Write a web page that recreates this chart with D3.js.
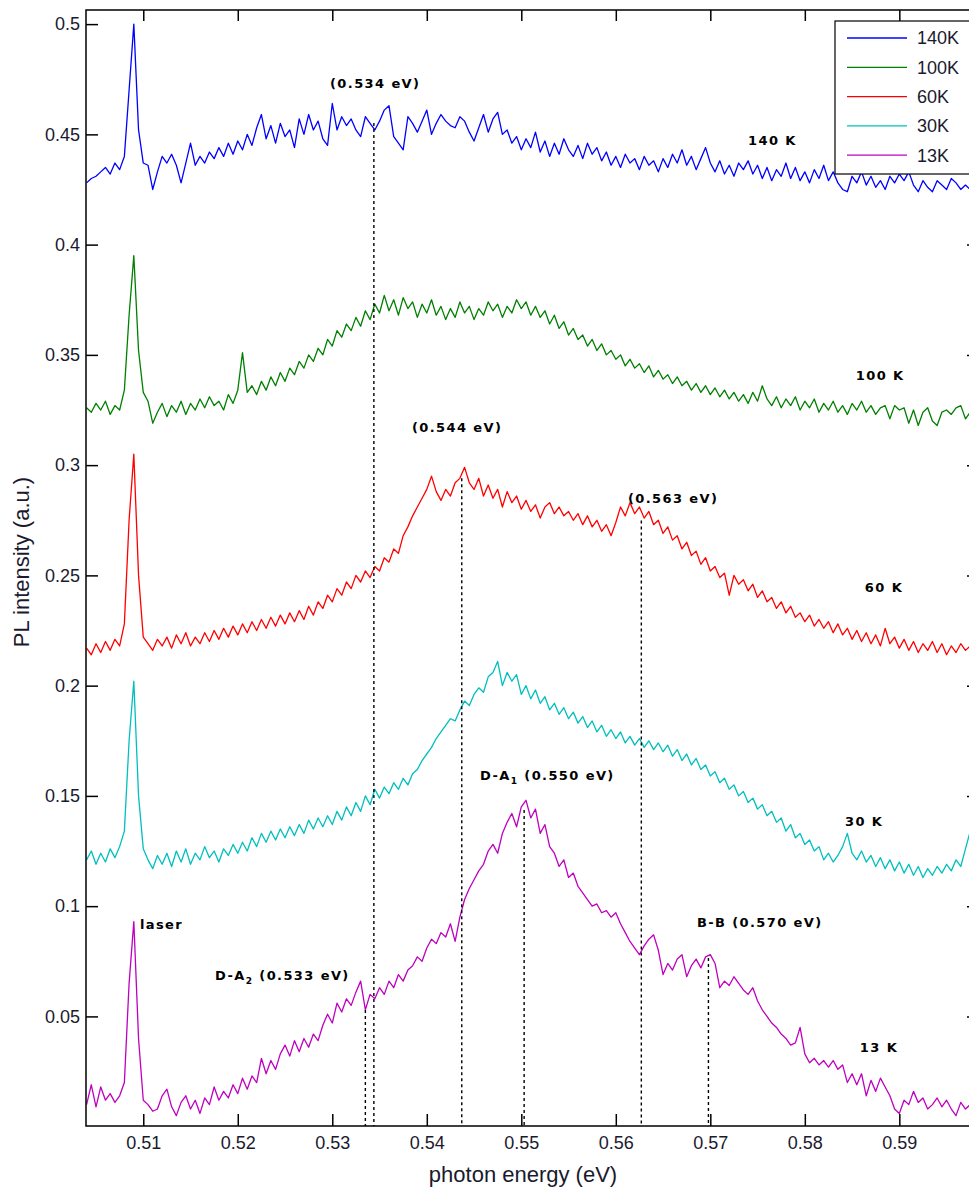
<!DOCTYPE html>
<html>
<head>
<meta charset="utf-8">
<script src="https://cdn.jsdelivr.net/npm/d3@7"></script>
<style>
body { margin: 0; background: #fff; }
</style>
</head>
<body>
<script>
// spectra sampled every 0.5 meV starting at 0.504 eV
var eStart = 0.504, eStep = 0.0005;

var pl140 = [
 0.428,0.430,0.431,0.433,0.435,0.432,0.437,0.434,0.440,0.470,
 0.500,0.452,0.437,0.436,0.425,0.433,0.440,0.437,0.441,0.436,
 0.428,0.437,0.446,0.436,0.440,0.437,0.442,0.439,0.444,0.440,
 0.446,0.441,0.447,0.443,0.450,0.445,0.453,0.459,0.448,0.454,
 0.446,0.455,0.449,0.452,0.444,0.457,0.450,0.459,0.452,0.456,
 0.448,0.445,0.464,0.452,0.458,0.454,0.457,0.452,0.449,0.458,
 0.455,0.452,0.456,0.461,0.463,0.449,0.446,0.443,0.458,0.455,
 0.451,0.456,0.461,0.450,0.455,0.459,0.456,0.454,0.453,0.458,
 0.456,0.451,0.447,0.453,0.459,0.451,0.457,0.460,0.450,0.452,
 0.446,0.449,0.443,0.448,0.444,0.451,0.442,0.447,0.440,0.446,
 0.441,0.448,0.443,0.440,0.445,0.439,0.446,0.441,0.444,0.438,
 0.442,0.436,0.440,0.435,0.441,0.437,0.439,0.434,0.440,0.436,
 0.438,0.433,0.439,0.435,0.441,0.437,0.443,0.436,0.440,0.434,
 0.439,0.444,0.437,0.433,0.438,0.432,0.436,0.431,0.437,0.434,
 0.438,0.432,0.436,0.430,0.435,0.429,0.434,0.431,0.437,0.430,
 0.435,0.429,0.433,0.428,0.434,0.430,0.436,0.429,0.433,0.428,
 0.425,0.424,0.431,0.428,0.433,0.427,0.431,0.426,0.429,0.425,
 0.431,0.428,0.432,0.429,0.433,0.427,0.424,0.429,0.426,0.424,
 0.429,0.427,0.425,0.430,0.428,0.425,0.427,0.425
];

var pl100 = [
 0.326,0.324,0.328,0.325,0.329,0.323,0.327,0.325,0.334,0.368,
 0.395,0.352,0.333,0.329,0.319,0.324,0.328,0.322,0.327,0.324,
 0.329,0.323,0.328,0.325,0.330,0.326,0.331,0.327,0.329,0.325,
 0.332,0.328,0.334,0.351,0.333,0.336,0.332,0.338,0.334,0.340,
 0.336,0.342,0.338,0.344,0.341,0.347,0.344,0.350,0.347,0.353,
 0.350,0.357,0.354,0.361,0.358,0.364,0.361,0.367,0.363,0.370,
 0.366,0.373,0.369,0.377,0.370,0.375,0.368,0.376,0.371,0.374,
 0.367,0.373,0.369,0.375,0.368,0.372,0.366,0.371,0.367,0.374,
 0.369,0.372,0.366,0.371,0.368,0.374,0.370,0.373,0.367,0.372,
 0.369,0.375,0.371,0.374,0.368,0.372,0.367,0.370,0.364,0.368,
 0.362,0.365,0.359,0.362,0.357,0.359,0.354,0.357,0.352,0.355,
 0.350,0.352,0.348,0.350,0.345,0.348,0.344,0.346,0.342,0.345,
 0.340,0.343,0.339,0.341,0.337,0.340,0.336,0.338,0.334,0.337,
 0.333,0.336,0.332,0.335,0.331,0.334,0.330,0.333,0.329,0.332,
 0.328,0.333,0.329,0.336,0.330,0.327,0.331,0.326,0.330,0.327,
 0.331,0.325,0.329,0.326,0.330,0.324,0.328,0.325,0.329,0.324,
 0.327,0.323,0.328,0.325,0.329,0.324,0.327,0.323,0.326,0.327,
 0.321,0.327,0.325,0.326,0.319,0.325,0.318,0.324,0.326,0.320,
 0.318,0.324,0.325,0.323,0.326,0.327,0.321,0.324
];

var pl60 = [
 0.217,0.214,0.219,0.215,0.220,0.216,0.221,0.218,0.228,0.275,
 0.305,0.250,0.222,0.219,0.216,0.221,0.218,0.222,0.217,0.223,
 0.219,0.224,0.218,0.222,0.219,0.224,0.220,0.225,0.221,0.226,
 0.222,0.227,0.223,0.228,0.224,0.229,0.225,0.230,0.226,0.231,
 0.227,0.232,0.228,0.233,0.229,0.234,0.230,0.236,0.232,0.238,
 0.235,0.241,0.238,0.244,0.241,0.247,0.244,0.250,0.247,0.252,
 0.249,0.254,0.252,0.258,0.256,0.262,0.260,0.268,0.272,0.277,
 0.281,0.285,0.289,0.295,0.288,0.284,0.289,0.286,0.292,0.294,
 0.299,0.292,0.289,0.294,0.286,0.291,0.285,0.289,0.281,0.288,
 0.283,0.286,0.280,0.284,0.279,0.282,0.276,0.281,0.283,0.278,
 0.281,0.277,0.279,0.275,0.278,0.273,0.277,0.272,0.275,0.270,
 0.273,0.268,0.274,0.281,0.277,0.283,0.278,0.281,0.276,0.279,
 0.273,0.275,0.269,0.272,0.266,0.268,0.262,0.265,0.259,0.261,
 0.255,0.258,0.252,0.254,0.249,0.251,0.241,0.250,0.246,0.248,
 0.243,0.246,0.240,0.243,0.238,0.240,0.235,0.238,0.233,0.236,
 0.231,0.233,0.229,0.232,0.227,0.230,0.226,0.229,0.224,0.228,
 0.223,0.226,0.221,0.225,0.220,0.224,0.219,0.223,0.218,0.226,
 0.219,0.222,0.217,0.221,0.216,0.220,0.215,0.219,0.216,0.220,
 0.215,0.219,0.214,0.218,0.215,0.219,0.216,0.218
];

var pl30 = [
 0.121,0.125,0.119,0.124,0.120,0.126,0.122,0.127,0.134,0.175,
 0.202,0.150,0.126,0.121,0.117,0.123,0.119,0.124,0.118,0.125,
 0.120,0.126,0.119,0.124,0.121,0.127,0.122,0.125,0.120,0.126,
 0.123,0.128,0.124,0.129,0.125,0.131,0.127,0.133,0.129,0.134,
 0.130,0.135,0.131,0.136,0.132,0.137,0.133,0.139,0.135,0.140,
 0.136,0.141,0.137,0.143,0.139,0.145,0.141,0.147,0.143,0.150,
 0.146,0.153,0.149,0.154,0.151,0.156,0.153,0.158,0.155,0.160,
 0.162,0.166,0.169,0.172,0.176,0.179,0.182,0.185,0.184,0.189,
 0.193,0.191,0.196,0.199,0.197,0.204,0.206,0.211,0.200,0.206,
 0.202,0.205,0.196,0.200,0.194,0.198,0.192,0.195,0.189,0.192,
 0.187,0.190,0.185,0.188,0.183,0.186,0.181,0.184,0.179,0.182,
 0.177,0.180,0.176,0.179,0.174,0.177,0.173,0.176,0.172,0.175,
 0.171,0.174,0.170,0.173,0.168,0.171,0.166,0.169,0.164,0.167,
 0.162,0.164,0.159,0.161,0.156,0.158,0.153,0.155,0.150,0.152,
 0.147,0.149,0.144,0.146,0.141,0.143,0.138,0.140,0.134,0.137,
 0.131,0.133,0.128,0.130,0.125,0.127,0.121,0.124,0.120,0.123,
 0.127,0.133,0.124,0.121,0.125,0.120,0.123,0.118,0.122,0.117,
 0.121,0.116,0.120,0.115,0.119,0.114,0.118,0.113,0.117,0.114,
 0.118,0.115,0.119,0.116,0.121,0.118,0.126,0.134
];

var pl13 = [
 0.010,0.019,0.009,0.018,0.012,0.015,0.011,0.014,0.020,0.065,
 0.093,0.040,0.012,0.010,0.007,0.008,0.014,0.017,0.009,0.005,
 0.011,0.014,0.008,0.012,0.006,0.013,0.010,0.018,0.012,0.016,
 0.013,0.019,0.015,0.022,0.017,0.023,0.020,0.031,0.024,0.030,
 0.026,0.033,0.037,0.032,0.039,0.034,0.040,0.036,0.042,0.039,
 0.046,0.051,0.047,0.056,0.052,0.058,0.055,0.061,0.066,0.053,
 0.060,0.058,0.063,0.060,0.066,0.063,0.069,0.066,0.071,0.073,
 0.077,0.075,0.081,0.085,0.083,0.088,0.086,0.092,0.084,0.095,
 0.103,0.108,0.112,0.116,0.119,0.125,0.128,0.124,0.133,0.138,
 0.142,0.136,0.145,0.148,0.140,0.144,0.133,0.137,0.127,0.124,
 0.118,0.121,0.113,0.115,0.109,0.106,0.103,0.100,0.101,0.097,
 0.098,0.095,0.097,0.092,0.088,0.084,0.081,0.078,0.082,0.085,
 0.087,0.080,0.069,0.074,0.071,0.076,0.078,0.068,0.073,0.076,
 0.072,0.077,0.078,0.074,0.063,0.066,0.064,0.068,0.065,0.062,
 0.060,0.063,0.057,0.053,0.050,0.047,0.045,0.042,0.040,0.037,
 0.038,0.045,0.033,0.029,0.031,0.028,0.030,0.027,0.030,0.026,
 0.028,0.020,0.024,0.019,0.024,0.014,0.021,0.016,0.022,0.018,
 0.014,0.008,0.006,0.012,0.010,0.016,0.011,0.013,0.008,0.010,
 0.013,0.009,0.012,0.008,0.005,0.011,0.008,0.010
];

var seriesNames = ["140K", "100K", "60K", "30K", "13K"];
var seriesColors = ["#0000ff", "#008000", "#ff0000", "#00bfbf", "#bf00bf"];

var xTicks = [0.51, 0.52, 0.53, 0.54, 0.55, 0.56, 0.57, 0.58, 0.59];
var xTickLabels = ["0.51", "0.52", "0.53", "0.54", "0.55", "0.56", "0.57", "0.58", "0.59"];
var yTicks = [0.05, 0.1, 0.15, 0.2, 0.25, 0.3, 0.35, 0.4, 0.45, 0.5];
var yTickLabels = ["0.05", "0.1", "0.15", "0.2", "0.25", "0.3", "0.35", "0.4", "0.45", "0.5"];

// dashed guide lines: energy and the intensity where they start
var markerE = [0.5335, 0.5344, 0.5437, 0.5503, 0.5627, 0.5698];
var markerTop = [0.0529, 0.4551, 0.2941, 0.1436, 0.2749, 0.0765];

// annotations, anchored at (energy, intensity)
var notes = [
  { t: "(0.534 eV)", e: 0.52976, v: 0.4733 },
  { t: "140 K", e: 0.57399, v: 0.4474 },
  { t: "100 K", e: 0.58540, v: 0.3408 },
  { t: "(0.544 eV)", e: 0.53843, v: 0.3173 },
  { t: "(0.563 eV)", e: 0.56129, v: 0.2851 },
  { t: "60 K", e: 0.58635, v: 0.2447 },
  { t: "30 K", e: 0.58425, v: 0.1382 },
  { t: "D-A", sub: "1", rest: " (0.550 eV)", e: 0.54563, v: 0.1591 },
  { t: "B-B (0.570 eV)", e: 0.56858, v: 0.0924 },
  { t: "laser", e: 0.50965, v: 0.0915 },
  { t: "D-A", sub: "2", rest: " (0.533 eV)", e: 0.51759, v: 0.0688 },
  { t: "13 K", e: 0.58582, v: 0.0361 }
];

var W = 969, H = 1189;
var plotL = 86, plotT = 10, plotR = 979, plotB = 1126;

var x = d3.scaleLinear().domain([0.50394, 0.59843]).range([plotL, plotR]);
var y = d3.scaleLinear().domain([0.0003, 0.5064]).range([plotB, plotT]);

var svg = d3.select("body").append("svg")
  .attr("width", W)
  .attr("height", H)
  .style("font-family", "'Liberation Sans', Arial, sans-serif");

svg.append("defs").append("clipPath").attr("id", "plotclip")
  .append("rect")
  .attr("x", plotL).attr("y", plotT)
  .attr("width", plotR - plotL).attr("height", plotB - plotT);

var series = [pl140, pl100, pl60, pl30, pl13].map(function(vals, k) {
  return {
    name: seriesNames[k],
    color: seriesColors[k],
    points: vals.map(function(v, i) { return [eStart + i * eStep, v]; })
  };
});

var line = d3.line()
  .x(function(d) { return x(d[0]); })
  .y(function(d) { return y(d[1]); });

svg.append("g").attr("clip-path", "url(#plotclip)")
  .selectAll("path")
  .data(series)
  .enter()
  .append("path")
  .attr("d", function(d) { return line(d.points); })
  .attr("fill", "none")
  .attr("stroke", function(d) { return d.color; })
  .attr("stroke-width", 1.3)
  .attr("stroke-linejoin", "round");

// dashed markers
svg.append("g").selectAll("line")
  .data(markerE)
  .enter()
  .append("line")
  .attr("x1", function(d) { return x(d); })
  .attr("x2", function(d) { return x(d); })
  .attr("y1", function(d, i) { return y(markerTop[i]); })
  .attr("y2", plotB)
  .attr("stroke", "#000")
  .attr("stroke-width", 1.4)
  .attr("stroke-dasharray", "3,3");

// axes: ticks point inward on all four sides
var xAxisB = d3.axisBottom(x).tickValues(xTicks)
  .tickFormat(function(d, i) { return xTickLabels[i]; })
  .tickSizeInner(-12).tickSizeOuter(0).tickPadding(10);
var xAxisT = d3.axisTop(x).tickValues(xTicks).tickFormat("")
  .tickSizeInner(-11).tickSizeOuter(0);
var yAxisL = d3.axisLeft(y).tickValues(yTicks)
  .tickFormat(function(d, i) { return yTickLabels[i]; })
  .tickSizeInner(-12).tickSizeOuter(0).tickPadding(6);
var yAxisR = d3.axisRight(y).tickValues(yTicks).tickFormat("")
  .tickSizeInner(-12).tickSizeOuter(0);

function styleAxis(g) {
  g.select(".domain").remove();
  g.selectAll(".tick line").attr("stroke", "#000").attr("stroke-width", 1.5);
  g.selectAll(".tick text")
    .attr("fill", "#1a1a2e")
    .style("font-family", "'Liberation Sans', Arial, sans-serif")
    .style("font-size", "18px");
}

svg.append("g").attr("transform", "translate(0," + plotB + ")").call(xAxisB).call(styleAxis);
svg.append("g").attr("transform", "translate(0," + plotT + ")").call(xAxisT).call(styleAxis);
svg.append("g").attr("transform", "translate(" + plotL + ",0)").call(yAxisL).call(styleAxis);
svg.append("g").attr("transform", "translate(" + plotR + ",0)").call(yAxisR).call(styleAxis);

svg.append("rect")
  .attr("x", plotL).attr("y", plotT)
  .attr("width", plotR - plotL).attr("height", plotB - plotT)
  .attr("fill", "none")
  .attr("stroke", "#000")
  .attr("stroke-width", 1.5);

// annotations
var noteText = svg.append("g").selectAll("text")
  .data(notes)
  .enter()
  .append("text")
  .attr("x", function(d) { return x(d.e); })
  .attr("y", function(d) { return y(d.v); })
  .attr("dy", "0.35em")
  .style("font-family", "'DejaVu Sans', Verdana, sans-serif")
  .style("font-weight", "bold")
  .style("font-size", "13px")
  .style("letter-spacing", "1.4px")
  .attr("fill", "#000");

noteText.append("tspan").text(function(d) { return d.t; });
noteText.filter(function(d) { return d.sub; })
  .append("tspan")
  .attr("dy", 4)
  .style("font-size", "9px")
  .text(function(d) { return d.sub; });
noteText.filter(function(d) { return d.sub; })
  .append("tspan")
  .attr("dy", -4)
  .text(function(d) { return d.rest; });

// axis titles
svg.append("text")
  .attr("x", 523)
  .attr("y", 1182)
  .attr("text-anchor", "middle")
  .style("font-size", "22px")
  .attr("fill", "#1a1a2e")
  .text("photon energy (eV)");

svg.append("text")
  .attr("transform", "translate(29,562) rotate(-90)")
  .attr("text-anchor", "middle")
  .style("font-size", "22px")
  .attr("fill", "#1a1a2e")
  .text("PL intensity (a.u.)");

// legend
var legend = svg.append("g").attr("transform", "translate(835,21)");
legend.append("rect")
  .attr("width", 160).attr("height", 153)
  .attr("fill", "#fff")
  .attr("stroke", "#000")
  .attr("stroke-width", 1.2);

var items = legend.selectAll("g.item")
  .data(series)
  .enter()
  .append("g")
  .attr("class", "item")
  .attr("transform", function(d, i) { return "translate(0," + (17 + i * 29.3) + ")"; });

items.append("line")
  .attr("x1", 12).attr("x2", 72)
  .attr("stroke", function(d) { return d.color; })
  .attr("stroke-width", 1.3);

items.append("text")
  .attr("x", 82)
  .attr("dy", "0.35em")
  .style("font-size", "18px")
  .attr("fill", "#1a1a2e")
  .text(function(d) { return d.name; });
</script>
</body>
</html>
